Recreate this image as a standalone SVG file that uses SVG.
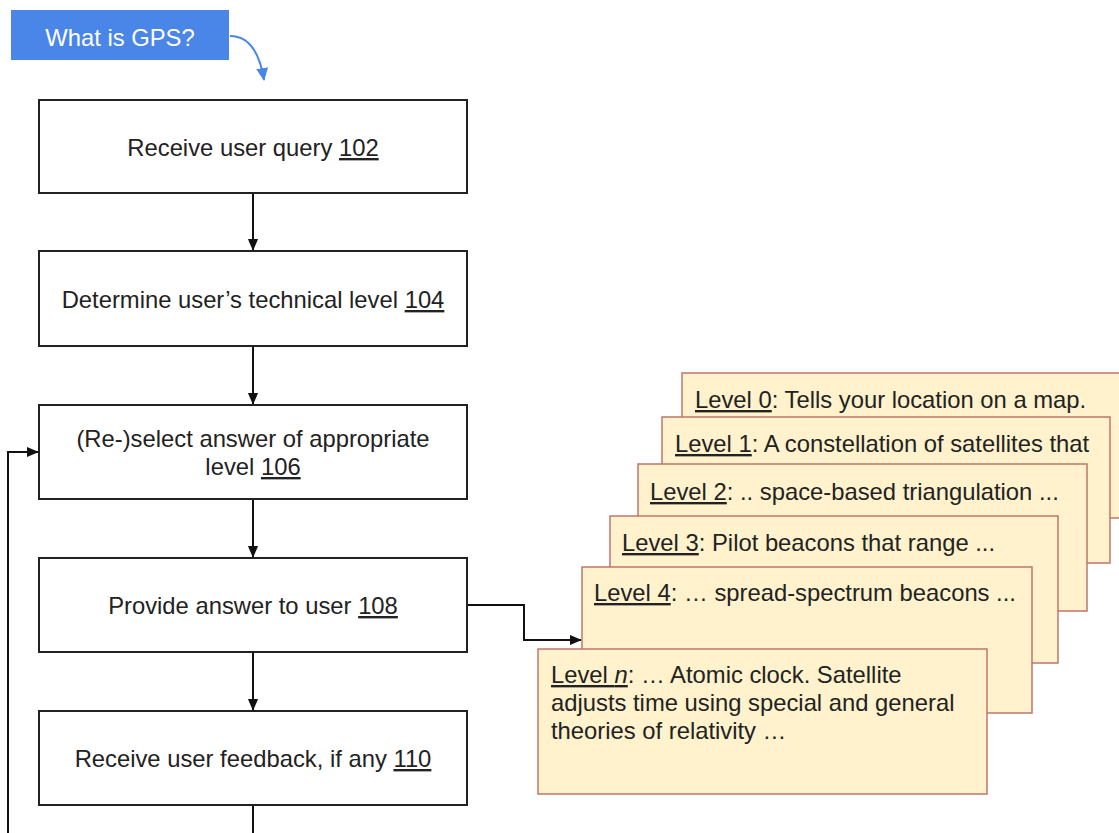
<svg xmlns="http://www.w3.org/2000/svg" width="1119" height="833" viewBox="0 0 1119 833">
<defs>
<style>
.box{fill:#fff;stroke:#222;stroke-width:2}
.card{fill:#fff2cc;stroke:#c0766a;stroke-width:1.5}
.t{font-family:"Liberation Sans",Arial,sans-serif;font-size:23.8px;fill:#222}
.c{text-anchor:middle}
.u{text-decoration:underline}
.conn{fill:none;stroke:#111;stroke-width:2}
</style>
<marker id="ah" markerWidth="12" markerHeight="14" viewBox="0 0 14 14" refX="13" refY="7" orient="auto" markerUnits="userSpaceOnUse">
<path d="M0,1 L14,7 L0,13 Z" fill="#111"/>
</marker>
<marker id="bh" markerWidth="14" markerHeight="14" viewBox="0 0 14 14" refX="12" refY="7" orient="auto" markerUnits="userSpaceOnUse">
<path d="M0,1 L13,7 L0,13 Z" fill="#4a86e8"/>
</marker>
</defs>
<rect width="1119" height="833" fill="#fff"/>

<g id="query">
<rect x="11" y="10" width="218" height="50" fill="#4a86e8"/>
<text x="120" y="46" class="t c" style="fill:#fff">What is GPS?</text>
</g>

<g id="connectors">
<path d="M230,36 Q257,36 264,80" fill="none" stroke="#4a86e8" stroke-width="2" marker-end="url(#bh)"/>
<line x1="253" y1="193" x2="253" y2="250" class="conn" marker-end="url(#ah)"/>
<line x1="253" y1="346" x2="253" y2="404" class="conn" marker-end="url(#ah)"/>
<line x1="253" y1="499" x2="253" y2="557" class="conn" marker-end="url(#ah)"/>
<line x1="253" y1="652" x2="253" y2="710" class="conn" marker-end="url(#ah)"/>
<line x1="253" y1="805" x2="253" y2="833" class="conn"/>
<path d="M8,833 L8,452 L38,452" class="conn" marker-end="url(#ah)"/>
<path d="M467,605 L524,605 L524,640 L581,640" class="conn" marker-end="url(#ah)"/>
</g>

<g id="n102">
<rect x="39" y="100" width="428" height="93" class="box"/>
<text x="253" y="156" class="t c">Receive user query <tspan class="u">102</tspan></text>
</g>
<g id="n104">
<rect x="39" y="251" width="428" height="95" class="box"/>
<text x="253" y="308" class="t c">Determine user’s technical level <tspan class="u">104</tspan></text>
</g>
<g id="n106">
<rect x="39" y="405" width="428" height="94" class="box"/>
<text x="253" y="447" class="t c">(Re-)select answer of appropriate</text>
<text x="253" y="475" class="t c">level <tspan class="u">106</tspan></text>
</g>
<g id="n108">
<rect x="39" y="558" width="428" height="94" class="box"/>
<text x="253" y="614" class="t c">Provide answer to user <tspan class="u">108</tspan></text>
</g>
<g id="n110">
<rect x="39" y="711" width="428" height="94" class="box"/>
<text x="253" y="767" class="t c">Receive user feedback, if any <tspan class="u">110</tspan></text>
</g>

<g id="level0">
<rect x="682" y="373" width="448" height="145" class="card"/>
<text x="695" y="408" class="t"><tspan class="u">Level 0</tspan>: Tells your location on a map.</text>
</g>
<g id="level1">
<rect x="662" y="417" width="448" height="146" class="card"/>
<text x="675" y="452" class="t"><tspan class="u">Level 1</tspan>: A constellation of satellites that</text>
</g>
<g id="level2">
<rect x="638" y="464" width="449" height="147" class="card"/>
<text x="650" y="500" class="t"><tspan class="u">Level 2</tspan>: .. space-based triangulation ...</text>
</g>
<g id="level3">
<rect x="610" y="516" width="448" height="147" class="card"/>
<text x="622" y="551" class="t"><tspan class="u">Level 3</tspan>: Pilot beacons that range ...</text>
</g>
<g id="level4">
<rect x="582" y="567" width="450" height="146" class="card"/>
<text x="594" y="601" class="t"><tspan class="u">Level 4</tspan>: … spread-spectrum beacons ...</text>
</g>
<g id="leveln">
<rect x="538" y="649" width="449" height="145" class="card"/>
<text x="551" y="683" class="t"><tspan class="u">Level <tspan font-style="italic">n</tspan></tspan>: … Atomic clock. Satellite</text>
<text x="551" y="711" class="t">adjusts time using special and general</text>
<text x="551" y="739" class="t">theories of relativity …</text>
</g>
</svg>
